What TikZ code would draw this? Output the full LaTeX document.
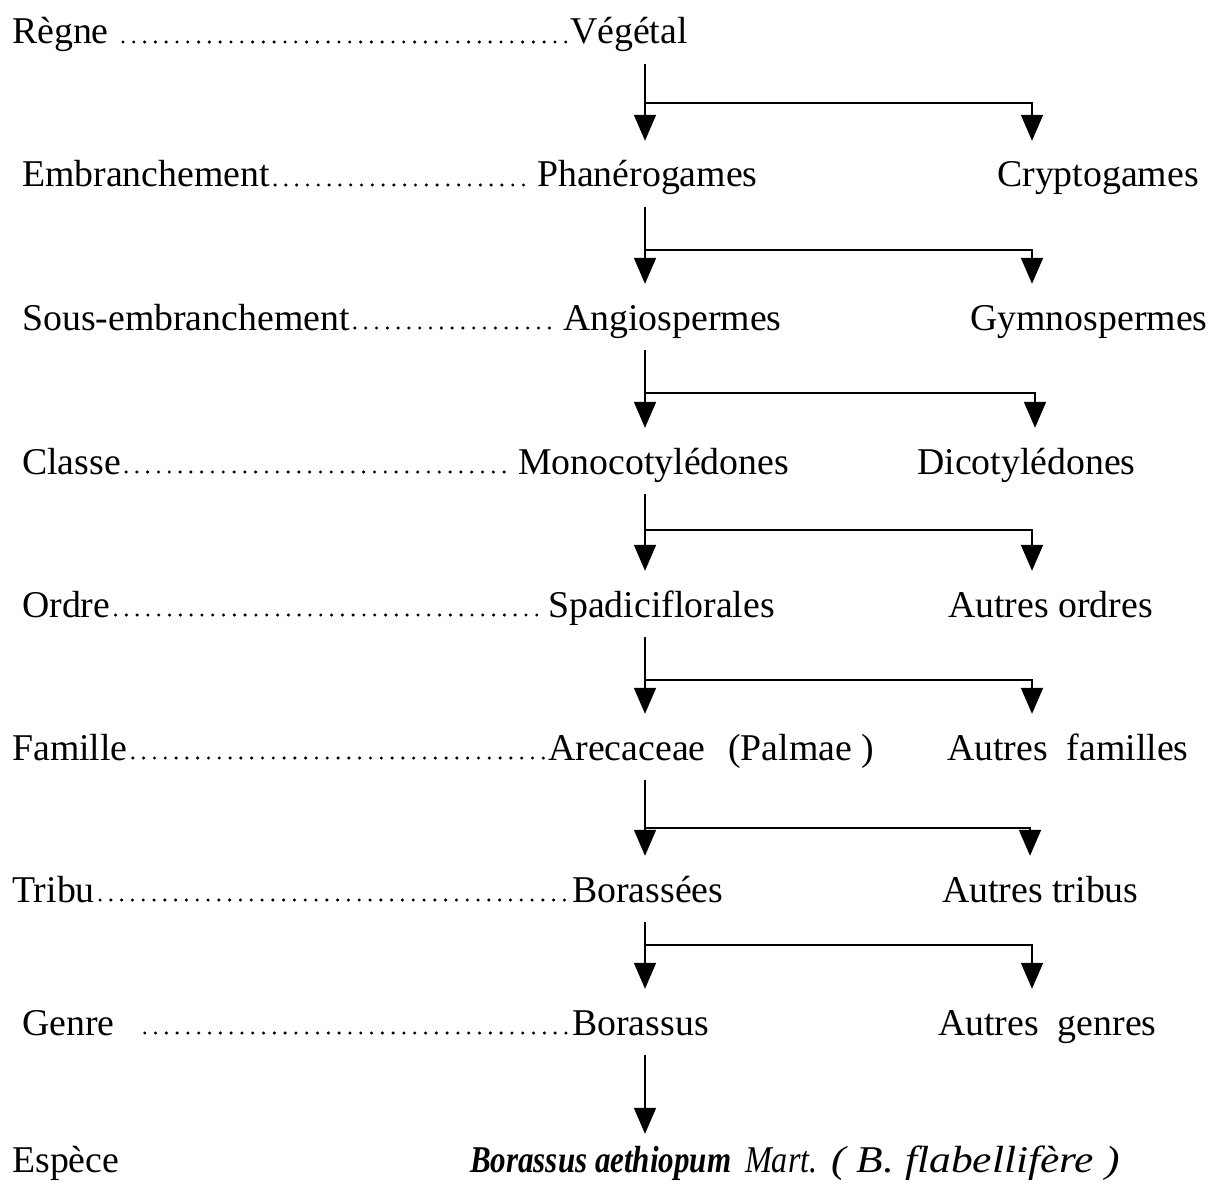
\documentclass[tikz,border=0pt]{standalone}
\usepackage{fontspec}
\setmainfont{Liberation Serif}
\usepackage{graphicx}
\usepackage{tikz}
\usetikzlibrary{arrows.meta,calc}

\begin{document}
\begin{tikzpicture}[x=1pt,y=-1pt]
\tikzstyle{word}=[anchor=base west, inner sep=0pt, text height=26pt, text depth=8pt, font=\fontsize{37.8}{44}\selectfont]
\tikzstyle{leader}=[line width=3.4pt, line cap=round, dash pattern=on 0pt off 10.8pt, shorten <=5pt, shorten >=4pt]
\tikzstyle{connect}=[-{Triangle[width=22pt,length=26pt]}, line width=1.8pt, line join=miter, shorten >=20pt]
\tikzstyle{stem}=[connect, shorten <=12pt]

\useasboundingbox (0,0) rectangle (1214,1182);

  \node[word] (regne)     at (12,44)   {Règne};
  \node[word] (vegetal)   at (570,44)  {Végétal};

  \node[word] (embr)      at (22,187)  {Embranchement};
  \node[word] (phanero)   at (537,187) {Phanérogames};
  \node[word] (crypto)    at (997,187) {Cryptogames};

  \node[word] (sousembr)  at (22,330)  {Sous-embranchement};
  \node[word] (angio)     at (563,330) {Angiospermes};
  \node[word] (gymno)     at (970,330) {Gymnospermes};

  \node[word] (classe)    at (22,474)  {Classe};
  \node[word] (mono)      at (518,474) {Monocotylédones};
  \node[word] (dico)      at (917,474) {Dicotylédones};

  \node[word] (ordre)     at (22,617)  {Ordre};
  \node[word] (spadici)   at (548,617) {Spadiciflorales};
  \node[word] (autordres) at (948,617) {Autres ordres};

  \node[word] (famille)   at (12,760)  {Famille};
  \node[word] (areca)     at (548,760) {Arecaceae\hspace{0.6em}(Palmae )};
  \node[word] (autfam)    at (947,760) {Autres\hspace{0.5em}familles};

  \node[word] (tribu)     at (12,902)  {Tribu};
  \node[word] (borassees) at (572,902) {Borassées};
  \node[word] (auttribus) at (942,902) {Autres tribus};

  \node[word] (genre)     at (22,1035) {Genre};
  \node[word] (borassus)  at (572,1035) {Borassus};
  \node[word] (autgenres) at (938,1035) {Autres\hspace{0.5em}genres};

  \node[word] (espece)    at (12,1172) {Espèce};
  \node[word] (aethiopum) at (470,1172) {\scalebox{0.82}[1]{\textbf{\textit{Borassus aethiopum}}}\hspace{14pt}\scalebox{0.85}[1]{\textit{Mart.}}\hspace{14pt}\scalebox{1.15}[1]{\textit{( B. flabellifère )}}};

  % dotted leaders between rank and taxon
  \foreach \a/\b in {embr/phanero, sousembr/angio, classe/mono, ordre/spadici, famille/areca, tribu/borassees}
    \draw[leader] ($(\a.base east)+(0,-2)$) -- ($(\b.base west)+(0,-2)$);
  \draw[leader, shorten <=14pt] ($(regne.base east)+(0,-2)$) -- ($(vegetal.base west)+(0,-2)$);
  \draw[leader, shorten <=30pt] ($(genre.base east)+(0,-2)$) -- ($(borassus.base west)+(0,-2)$);

  \coordinate (trunk) at (645,0);

  % main line and side branch
  \foreach \u/\l/\o/\by/\ex in {vegetal/phanero/crypto/103/1032, phanero/angio/gymno/250/1032, angio/mono/dico/393/1035, mono/spadici/autordres/530/1032, spadici/areca/autfam/680/1032, areca/borassees/auttribus/828/1030, borassees/borassus/autgenres/945/1032}
  {
    \draw[stem] (\u.south -| trunk) -- (\l.north -| trunk);
    \coordinate (b) at (645,\by);
    \coordinate (e) at (\ex,\by);
    \draw[connect] (b) -- (e) -- (e |- \o.north);
  }
  \draw[stem, shorten >=12pt] (borassus.south -| trunk) -- (aethiopum.north -| trunk);

\end{tikzpicture}
\end{document}
